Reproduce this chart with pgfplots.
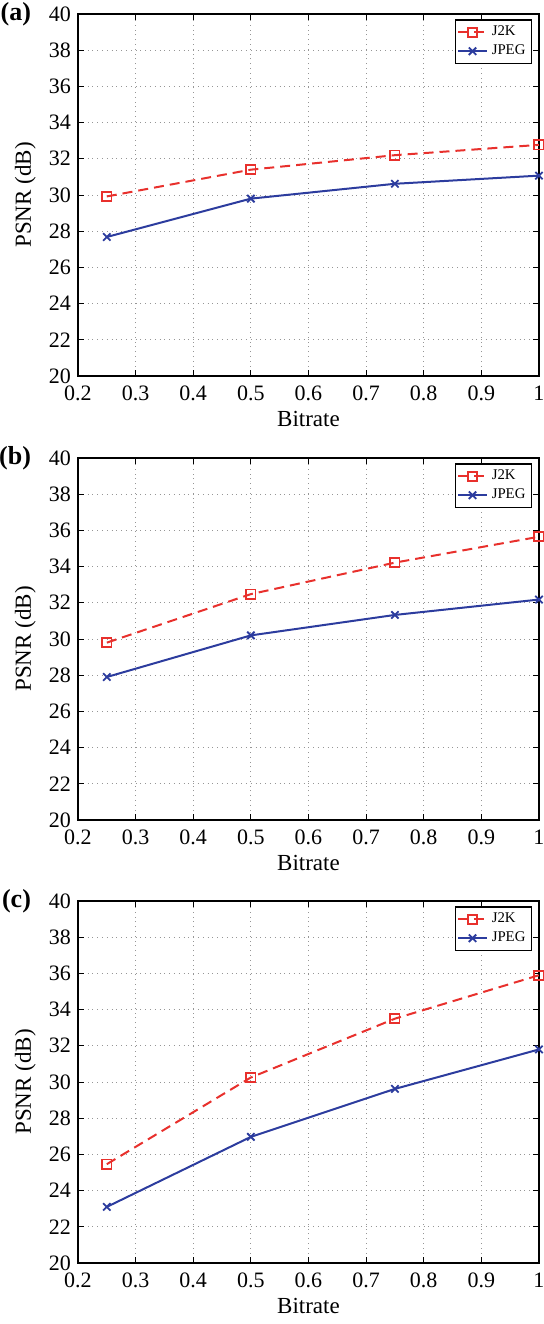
\documentclass[border=0pt]{standalone}
\usepackage{fontspec}
\setmainfont{Liberation Serif}
\usepackage{pgfplots}
\pgfplotsset{compat=1.18}
\definecolor{jred}{RGB}{232,48,44}
\definecolor{jblue}{RGB}{44,60,158}
\definecolor{gridgray}{RGB}{150,150,150}
\tikzset{plab/.style={anchor=east, font=\bfseries\fontsize{13}{14}\selectfont}}
\pgfplotsset{
  panel/.style={
    width=230.5pt, height=181pt, scale only axis, clip=false,
    xmin=0.2, xmax=1, ymin=20, ymax=40,
    xtick={0.2,0.3,0.4,0.5,0.6,0.7,0.8,0.9,1},
    ytick={20,22,24,26,28,30,32,34,36,38,40},
    /pgf/number format/assume math mode=true,
    /pgf/number format/fixed,
    tick label style={font=\fontsize{11}{12}\selectfont},
    xticklabel style={yshift=-1.5pt},
    label style={font=\fontsize{11.5}{13}\selectfont},
    xlabel={Bitrate}, ylabel={PSNR (dB)},
    xlabel style={at={(axis description cs:0.5,-0.118)}, anchor=center},
    ylabel style={at={(axis description cs:-0.114,0.5)}, anchor=center},
    grid=major,
    major grid style={gridgray, dotted, line width=0.5pt},
    tick align=inside, major tick length=3pt,
    axis line style={black, line width=0.7pt},
    every tick/.style={black, line width=0.5pt},
    legend style={at={(rel axis cs:0.985,0.985)}, anchor=north east,
      font=\fontsize{7.4}{8}\selectfont, draw=black, line width=0.6pt,
      inner sep=1pt, row sep=-1pt, fill=white},
    legend cell align=left,
    legend image code/.code={%
      \draw[mark repeat=2,mark phase=2] plot coordinates {(0cm,0cm) (0.25cm,0cm) (0.5cm,0cm)};},
  },
  j2k/.style={jred, line width=1pt, dash pattern=on 5pt off 3pt, mark=square, mark size=2.3pt, mark options={solid, line width=0.9pt}},
  jpeg/.style={jblue, line width=1pt, solid, mark=x, mark size=2.6pt, mark options={solid, line width=0.9pt}},
}
\begin{document}
\begin{tikzpicture}
\begin{axis}[panel, at={(0,0)}]
\coordinate (tl) at (rel axis cs:0,1);
\addplot[j2k] coordinates {(0.25,29.92) (0.5,31.4) (0.75,32.2) (1,32.77)};
\addplot[jpeg] coordinates {(0.25,27.68) (0.5,29.8) (0.75,30.62) (1,31.07)};
\legend{J2K, JPEG}
\node[plab] at ([xshift=-20pt]rel axis cs:0,1) {(a)};
\end{axis}
\begin{axis}[panel, at={(0,-222pt)}]
\addplot[j2k] coordinates {(0.25,29.8) (0.5,32.48) (0.75,34.22) (1,35.65)};
\addplot[jpeg] coordinates {(0.25,27.9) (0.5,30.2) (0.75,31.33) (1,32.18)};
\legend{J2K, JPEG}
\node[plab] at ([xshift=-20pt]rel axis cs:0,1) {(b)};
\end{axis}
\begin{axis}[panel, at={(0,-443.5pt)}]
\coordinate (br) at (rel axis cs:1,0);
\addplot[j2k] coordinates {(0.25,25.46) (0.5,30.25) (0.75,33.5) (1,35.9)};
\addplot[jpeg] coordinates {(0.25,23.1) (0.5,26.97) (0.75,29.62) (1,31.8)};
\legend{J2K, JPEG}
\node[plab] at ([xshift=-20pt]rel axis cs:0,1) {(c)};
\end{axis}
\pgfresetboundingbox
\useasboundingbox ([shift={(-39pt,7pt)}]tl) rectangle ([shift={(2.5pt,-30.5pt)}]br);
\end{tikzpicture}
\end{document}
